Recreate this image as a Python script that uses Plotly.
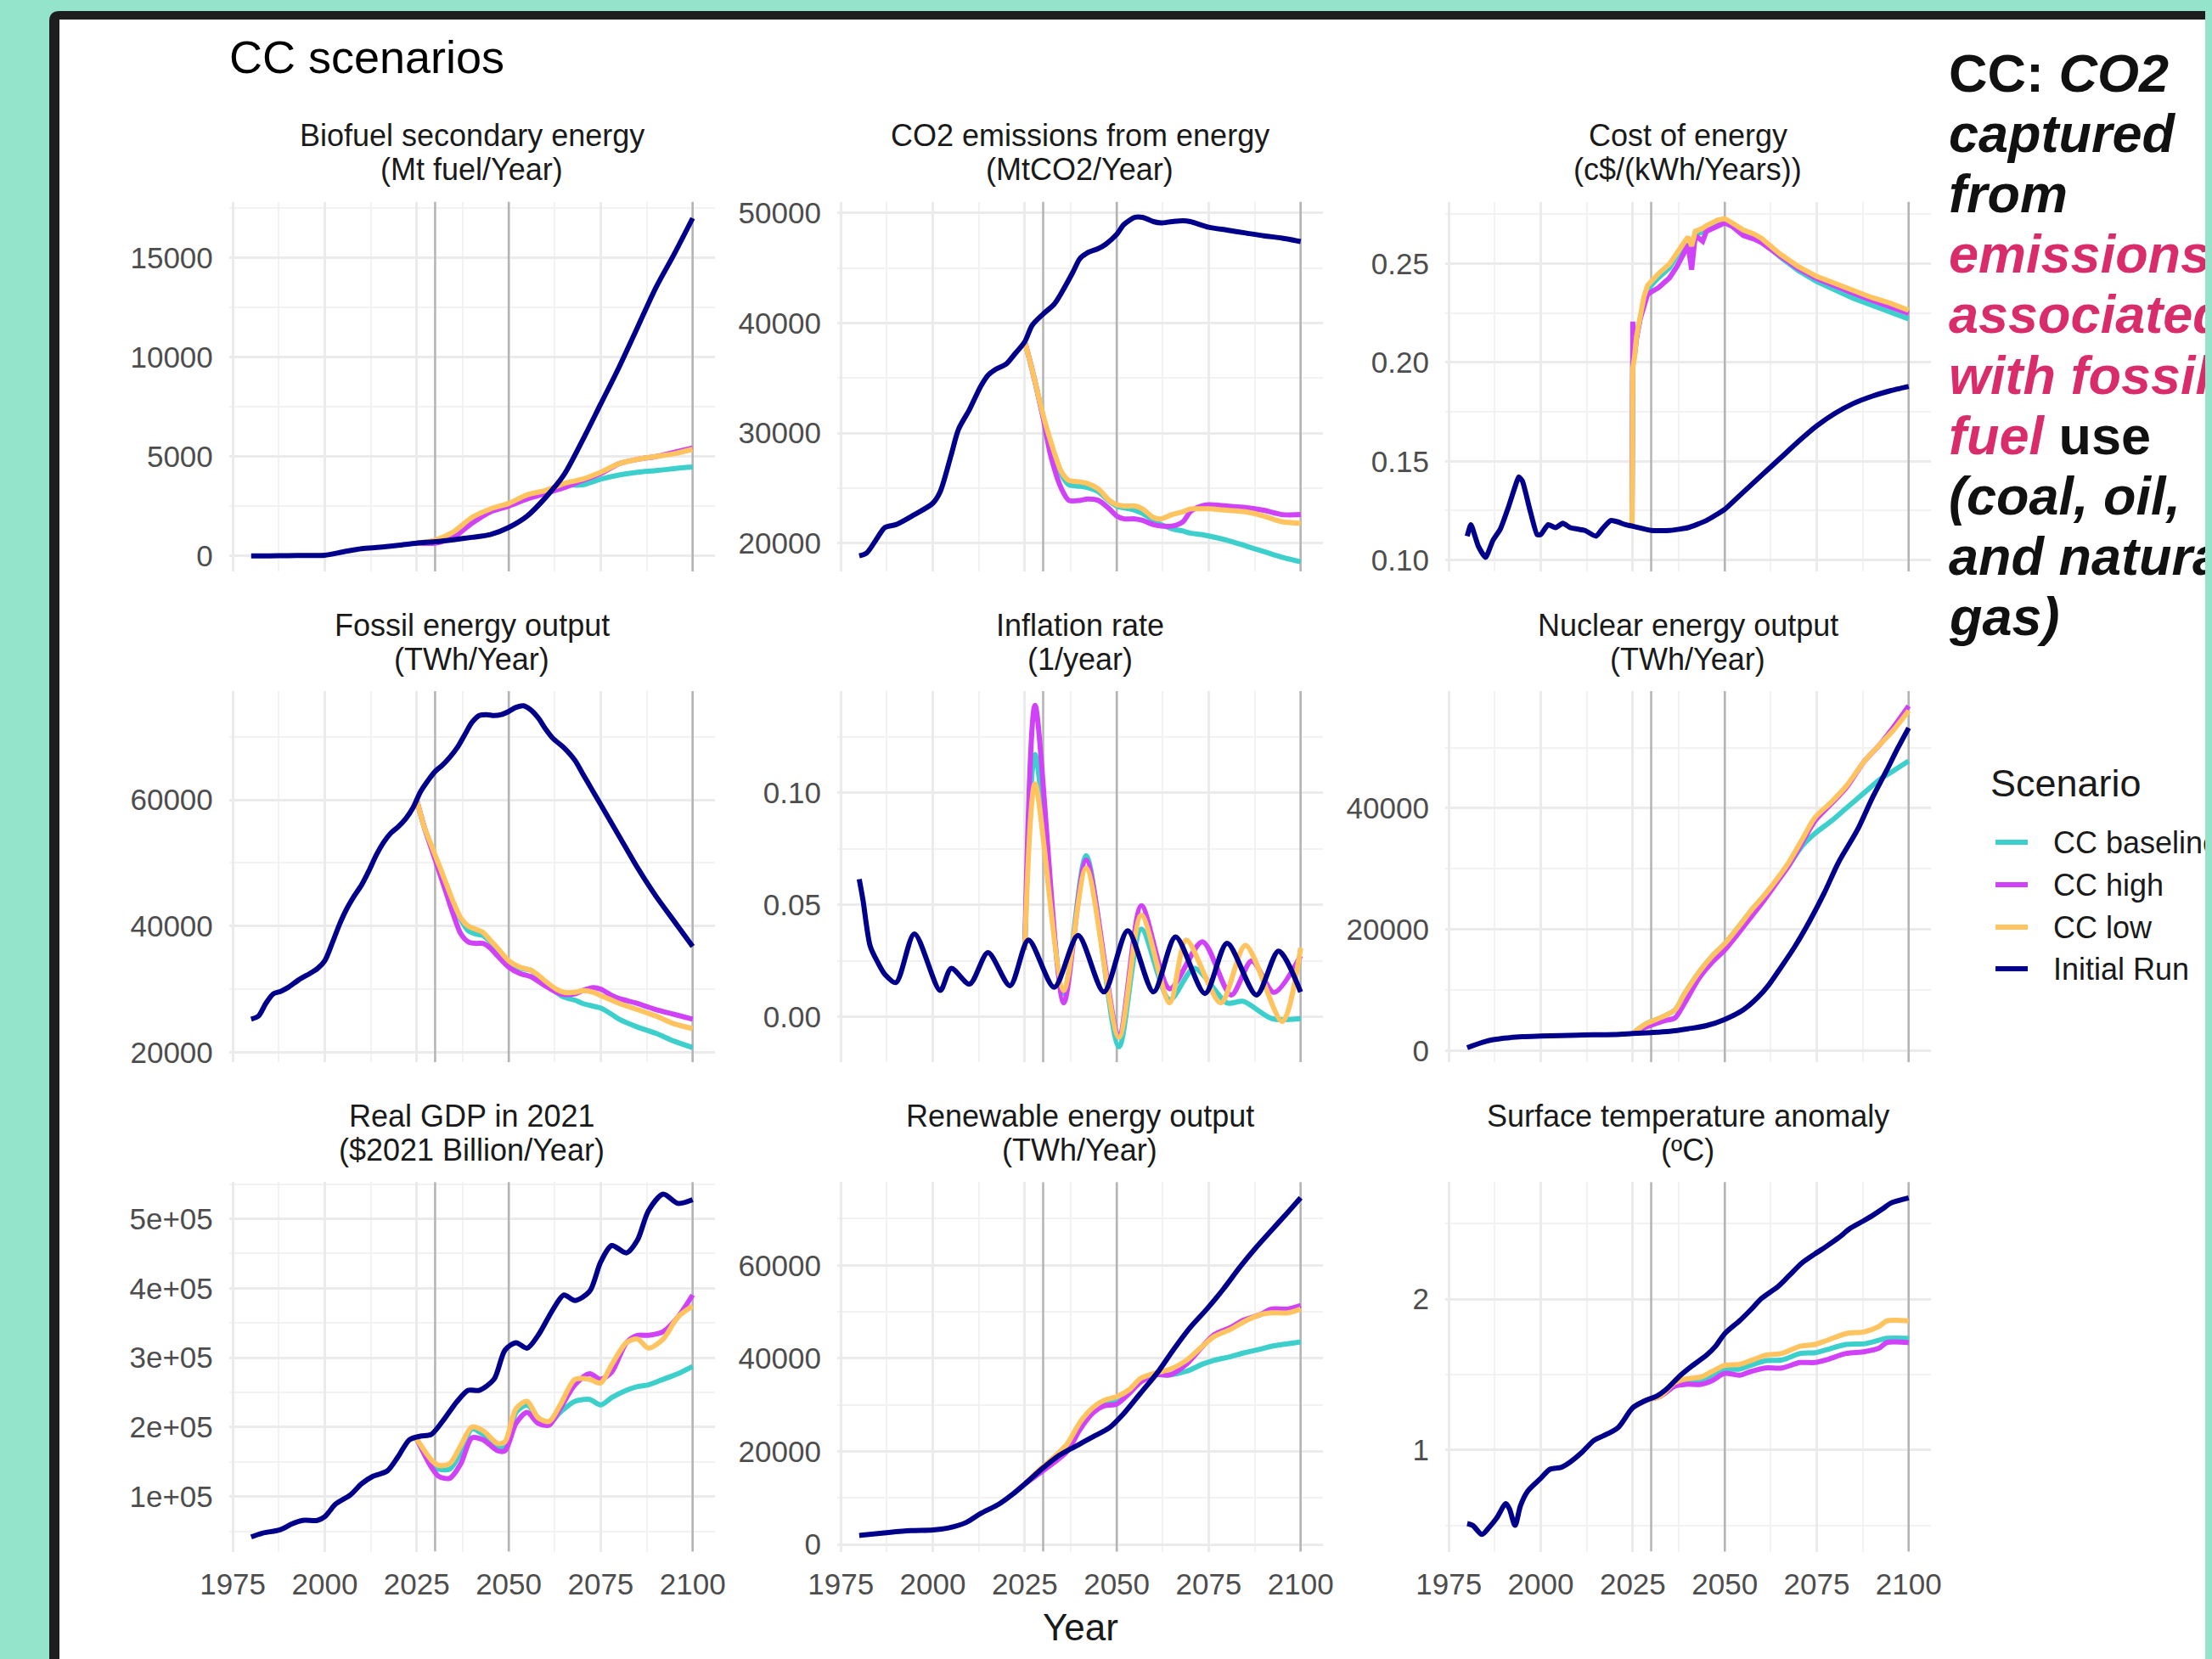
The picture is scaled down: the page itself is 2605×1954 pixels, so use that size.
import plotly.graph_objects as go

# the page body keeps its default 8px margin, so the figure is sized and positioned to fill the
# 2605 x 1954 window starting at (8, 8)
PAGE_W, PAGE_H = 2605, 1954
OFF = 8
W, H = PAGE_W - OFF, PAGE_H - OFF


def fx(xp):
    return (xp - OFF) / W


def fy(yp):
    return 1 - (yp - OFF) / H


# ---------------- data ----------------
SCENARIO_NAMES = ["CC baseline", "CC high", "CC low", "Initial Run"]
SCENARIO_COLORS = ["#3CCFCB", "#D042F8", "#FFC35F", "#00008B"]

X_TICKS = [1975, 2000, 2025, 2050, 2075, 2100]
VLINE_YEARS = [2030, 2050, 2100]

# Biofuel secondary energy
BIO_INIT_YEARS = [1980, 1985, 1990, 1995, 2000, 2005, 2010, 2015, 2020, 2025, 2030, 2035, 2040, 2045,
                  2050, 2055, 2060, 2065, 2070, 2075, 2080, 2085, 2090, 2095, 2100]
BIO_INIT = [0, 0, 10, 20, 30, 200, 360, 430, 530, 640, 710, 810, 930, 1070, 1430, 2000, 2930, 4070,
            5790, 7640, 9500, 11500, 13500, 15200, 17000]
BIO_SCEN_YEARS = [2025, 2030, 2035, 2040, 2045, 2050, 2055, 2060, 2065, 2070, 2075, 2080, 2085, 2090, 2095, 2100]
BIO_BASE = [640, 760, 1150, 1850, 2300, 2600, 3000, 3250, 3550, 3570, 3860, 4070, 4210, 4290, 4390, 4470]
BIO_HIGH = [640, 640, 930, 1640, 2210, 2500, 2860, 3140, 3430, 3790, 4140, 4640, 4860, 5000, 5210, 5430]
BIO_LOW = [640, 790, 1210, 1930, 2360, 2640, 3070, 3290, 3640, 3860, 4210, 4640, 4860, 5000, 5140, 5360]

# CO2 emissions from energy
CO2_INIT_YEARS = [1980, 1982, 1985, 1987, 1990, 1995, 2000, 2002, 2005, 2007, 2010, 2013, 2015, 2017,
                  2020, 2022, 2025, 2027, 2030, 2033, 2035, 2038, 2040, 2042, 2045, 2047, 2050, 2052,
                  2055, 2057, 2060, 2062, 2065, 2068, 2070, 2075, 2080, 2085, 2090, 2095, 2100]
CO2_INIT = [18840, 19100, 20520, 21420, 21680, 22590, 23620, 24660, 28020, 30350, 32160, 34230, 35260,
            35780, 36290, 37070, 38300, 39790, 40820, 41720, 42760, 44570, 45860, 46380, 46770, 47160,
            48060, 48970, 49610, 49610, 49220, 49100, 49220, 49300, 49220, 48710, 48450, 48190, 47930,
            47720, 47410]
CO2_SCEN_YEARS = [2025, 2027, 2030, 2032, 2035, 2037, 2040, 2042, 2045, 2048, 2050, 2052, 2055, 2057,
                  2060, 2062, 2065, 2068, 2070, 2073, 2075, 2080, 2085, 2090, 2095, 2100]
CO2_BASE = [38300, 35780, 31500, 29000, 26200, 25300, 25170, 25050, 24660, 23800, 23370, 23200, 22980,
            22700, 22070, 21700, 21300, 21100, 20910, 20780, 20650, 20260, 19750, 19230, 18710, 18300]
CO2_HIGH = [38300, 35780, 31380, 28020, 24920, 23880, 23880, 24010, 23880, 23110, 22460, 22200, 22200,
            22070, 21680, 21550, 21550, 21940, 22850, 23370, 23490, 23370, 23240, 22980, 22590, 22590]
CO2_LOW = [38300, 35780, 31640, 29310, 26470, 25690, 25560, 25430, 24920, 23880, 23490, 23370, 23370,
           23110, 22330, 22200, 22590, 22850, 23110, 23110, 23110, 22980, 22850, 22460, 21940, 21810]

# Cost of energy
COST_INIT_YEARS = [1980, 1981, 1983, 1985, 1987, 1989, 1991, 1993, 1994, 1995, 1997, 1999, 2000, 2002,
                   2004, 2006, 2008, 2010, 2012, 2015, 2017, 2019, 2021, 2023, 2025, 2030, 2035, 2040,
                   2045, 2050, 2055, 2060, 2065, 2070, 2075, 2080, 2085, 2090, 2095, 2100]
COST_INIT = [0.1121, 0.1179, 0.1071, 0.1014, 0.1100, 0.1157, 0.1257, 0.1371, 0.1421, 0.1400, 0.1257,
             0.1129, 0.1129, 0.1179, 0.1164, 0.1186, 0.1164, 0.1157, 0.1150, 0.1121, 0.1164, 0.1200,
             0.1193, 0.1179, 0.1171, 0.1150, 0.1150, 0.1164, 0.1200, 0.1257, 0.1343, 0.1429, 0.1514,
             0.1600, 0.1679, 0.1743, 0.1793, 0.1829, 0.1857, 0.1879]
COST_SCEN_YEARS = [2024.8, 2025, 2025.5, 2026, 2027, 2028, 2029, 2030, 2032, 2035, 2037, 2039, 2040,
                   2041, 2042, 2044, 2045, 2048, 2050, 2052, 2055, 2058, 2060, 2065, 2070, 2075, 2080,
                   2085, 2090, 2095, 2100]
COST_BASE = [0.1175, 0.199, 0.204, 0.213, 0.222, 0.231, 0.236, 0.239, 0.243, 0.248, 0.254, 0.258, 0.260,
             0.252, 0.265, 0.266, 0.268, 0.271, 0.2725, 0.270, 0.2665, 0.264, 0.2615, 0.2535, 0.2465,
             0.2410, 0.2365, 0.2325, 0.2290, 0.2255, 0.2221]
COST_HIGH = [0.1175, 0.2207, 0.204, 0.212, 0.222, 0.229, 0.2343, 0.2357, 0.2379, 0.2429, 0.2486, 0.2557,
             0.260, 0.247, 0.2643, 0.2614, 0.2664, 0.2690, 0.2707, 0.2690, 0.2643, 0.2625, 0.2607,
             0.2540, 0.2475, 0.2425, 0.2385, 0.2350, 0.2315, 0.2280, 0.2248]
COST_LOW = [0.1175, 0.197, 0.203, 0.213, 0.223, 0.233, 0.239, 0.241, 0.245, 0.250, 0.2557, 0.2614, 0.2636,
            0.2590, 0.2664, 0.2680, 0.2693, 0.2721, 0.2729, 0.2707, 0.2671, 0.2650, 0.2629, 0.2550,
            0.2486, 0.2436, 0.2400, 0.2364, 0.2329, 0.2300, 0.2264]

# Fossil energy output
FOS_INIT_YEARS = [1980, 1982, 1984, 1986, 1988, 1990, 1993, 1996, 1998, 2000, 2002, 2004, 2006, 2008,
                  2010, 2012, 2014, 2016, 2018, 2020, 2022, 2024, 2026, 2028, 2030, 2032, 2034, 2036,
                  2038, 2040, 2042, 2044, 2046, 2048, 2050, 2052, 2054, 2056, 2058, 2060, 2062, 2065,
                  2068, 2070, 2073, 2075, 2080, 2085, 2090, 2095, 2100]
FOS_INIT = [25250, 25750, 27750, 29250, 29650, 30250, 31500, 32500, 33250, 34500, 37250, 40250, 42750,
            44750, 46500, 48750, 51250, 53250, 54750, 55750, 57000, 58750, 61250, 63000, 64500, 65500,
            66750, 68250, 70250, 72250, 73350, 73500, 73350, 73500, 74000, 74650, 74900, 74250, 73000,
            71250, 69750, 68250, 66250, 64250, 61250, 59250, 54250, 49250, 44750, 40750, 36750]
FOS_SCEN_YEARS = [2025, 2027, 2029, 2031, 2033, 2035, 2037, 2039, 2041, 2043, 2045, 2047, 2050, 2053,
                  2056, 2058, 2060, 2063, 2065, 2068, 2070, 2073, 2075, 2078, 2080, 2085, 2090, 2095, 2100]
FOS_BASE = [60000, 55750, 52500, 49500, 46500, 43500, 41000, 39250, 38750, 38500, 37500, 36200, 34250,
            33300, 33000, 32000, 31000, 29500, 28750, 28250, 27750, 27300, 27000, 26000, 25250, 24000,
            23000, 21750, 20750]
FOS_HIGH = [60000, 55750, 52250, 48750, 45250, 41750, 38750, 37500, 37250, 37250, 36500, 35250, 33500,
            32500, 32000, 31250, 30500, 29500, 29150, 29250, 29750, 30250, 30000, 29000, 28500, 27750,
            26750, 26000, 25250]
FOS_LOW = [60000, 55750, 52750, 49750, 46750, 43750, 41250, 40000, 39500, 39000, 37750, 36500, 34500,
           33500, 33000, 32250, 31250, 30000, 29500, 29500, 29750, 29500, 29000, 28250, 27750, 26750,
           25750, 24500, 23750]

# Inflation rate
INF_INIT_YEARS = [1980, 1981, 1983, 1985, 1987, 1990, 1995, 2002, 2005, 2010, 2015, 2021, 2026, 2033,
                  2039.5, 2046.5, 2053, 2060, 2066, 2074, 2080, 2088, 2094, 2100]
INF_INIT = [0.0615, 0.0524, 0.0315, 0.0245, 0.019, 0.0154, 0.0371, 0.0119, 0.0217, 0.0147, 0.0287,
            0.014, 0.0343, 0.0133, 0.0364, 0.0112, 0.0385, 0.0112, 0.0357, 0.0105, 0.0329, 0.0098,
            0.0294, 0.0112]
INF_BASE_YEARS = [2025, 2027.8, 2035.6, 2041.7, 2050.6, 2056.7, 2064.4, 2071.1, 2080, 2084.4, 2092.2, 2100]
INF_BASE = [0.030, 0.117, 0.0105, 0.072, -0.0133, 0.0392, 0.0077, 0.0217, 0.0063, 0.0070, -0.0007, -0.0007]
INF_HIGH_YEARS = [2025, 2027.8, 2035.6, 2041.7, 2050.6, 2056.7, 2064.4, 2073.3, 2081.1, 2086.7, 2092.8, 2100]
INF_HIGH = [0.030, 0.139, 0.0063, 0.070, -0.0077, 0.0497, 0.0126, 0.0336, 0.0098, 0.025, 0.011, 0.0273]
INF_LOW_YEARS = [2025, 2027.8, 2035.6, 2041.7, 2050.6, 2056.7, 2064.4, 2068.9, 2078.3, 2085, 2095, 2100]
INF_LOW = [0.030, 0.104, 0.0119, 0.0664, -0.0091, 0.0455, 0.0063, 0.0343, 0.0063, 0.032, -0.002, 0.0308]

# Nuclear energy output
NUC_INIT_YEARS = [1980, 1985, 1990, 1995, 2000, 2010, 2020, 2025, 2030, 2035, 2040, 2045, 2050, 2055,
                  2059, 2062, 2065, 2069, 2073, 2077, 2081, 2086, 2090, 2094, 2097, 2100]
NUC_INIT = [520, 1560, 2080, 2340, 2440, 2600, 2700, 2860, 3010, 3220, 3640, 4160, 5190, 6750, 8830,
            10910, 13510, 17140, 21300, 25970, 31170, 36360, 41560, 46230, 49870, 53250]
NUC_SCEN_YEARS = [2025, 2028.5, 2033.5, 2036.5, 2039, 2043, 2046.5, 2050, 2053.5, 2057.5, 2060.5, 2064.5,
                  2067.5, 2071, 2074.5, 2079, 2083, 2088, 2092, 2096, 2100]
NUC_BASE = [2860, 4420, 5710, 6750, 9350, 12990, 15580, 17660, 20260, 23380, 25450, 28310, 30650, 33770,
            35840, 37920, 40000, 42600, 44680, 46230, 47790]
NUC_HIGH = [2860, 3900, 4940, 5450, 7790, 11950, 14550, 16620, 19220, 22340, 24680, 28050, 30650, 34290,
            37920, 40780, 43380, 47790, 50390, 53510, 56880]
NUC_LOW = [2860, 4420, 5710, 6750, 9350, 12990, 15580, 17660, 20260, 23380, 25450, 28570, 31170, 34810,
           38440, 41040, 43640, 47790, 50390, 52990, 56100]

# Real GDP
GDP_INIT_YEARS = [1980, 1983, 1988, 1991, 1994, 1998, 2000, 2003, 2007, 2010, 2013, 2017, 2020, 2023,
                  2026, 2029, 2032, 2036, 2039, 2042, 2046, 2049, 2052, 2055, 2058, 2062, 2065, 2068,
                  2072, 2075, 2078, 2082, 2085, 2088, 2092, 2096, 2100]
GDP_INIT = [41950, 47230, 52500, 60420, 65700, 65700, 70980, 89450, 102640, 118470, 129020, 136940,
            158050, 181790, 187070, 189710, 208180, 237200, 253030, 253030, 268870, 311080, 321640,
            313720, 332190, 369130, 390240, 382320, 395510, 437730, 461480, 450920, 469390, 511610,
            535360, 522160, 527440]
GDP_SCEN_YEARS = [2025, 2029, 2031, 2034, 2037, 2040, 2043, 2047, 2049, 2052, 2055, 2058, 2061, 2064,
                  2068, 2072, 2075, 2078, 2082, 2085, 2088, 2092, 2096, 2100]
GDP_BASE = [183000, 147490, 139580, 139580, 163330, 197620, 189710, 171240, 171240, 221370, 231930,
            213460, 205540, 221370, 237200, 239840, 231930, 242480, 253030, 258310, 260950, 268870,
            276780, 287340]
GDP_HIGH = [183000, 142220, 129020, 126380, 147490, 184430, 181790, 165960, 165960, 205540, 221370,
            205540, 202900, 226650, 260950, 276780, 268870, 279420, 321640, 332190, 332190, 337470,
            358580, 390240]
GDP_LOW = [183000, 152770, 144850, 147490, 173880, 200260, 194990, 176520, 179160, 226650, 237200,
           213460, 208180, 231930, 268870, 268870, 263590, 289970, 321640, 326910, 313720, 326910,
           358580, 374410]
GDP_TICKS = [100000, 200000, 300000, 400000, 500000]
GDP_TICK_LABELS = ["1e+05", "2e+05", "3e+05", "4e+05", "5e+05"]

# Renewable energy output
REN_INIT_YEARS = [1980, 1988, 1994, 2000, 2004, 2009, 2013, 2018, 2022, 2025, 2030, 2034.5, 2039, 2043.5,
                  2048, 2052, 2056.5, 2061, 2065.5, 2070, 2074.5, 2079, 2083.5, 2088, 2092, 2096.5, 2100]
REN_INIT = [1960, 2590, 2980, 3140, 3530, 4710, 6670, 8700, 11000, 13000, 16470, 19220, 21180, 23140,
            25100, 28240, 32550, 36860, 41960, 46670, 50590, 54900, 59610, 63920, 67450, 71370, 74510]
REN_SCEN_YEARS = [2025, 2029, 2033, 2036.5, 2040, 2043.5, 2046.5, 2050, 2053.5, 2056.5, 2060.5, 2064.5,
                  2069, 2073.5, 2076.5, 2081, 2084.5, 2089, 2092, 2096.5, 2100]
REN_BASE = [13000, 15690, 18040, 20780, 25490, 28630, 30350, 30980, 32940, 35290, 36470, 36470, 37250,
            38820, 39610, 40390, 41180, 41960, 42590, 43140, 43530]
REN_HIGH = [13000, 15290, 17650, 20000, 24710, 28240, 29800, 30200, 32550, 34900, 36470, 36470, 38820,
            42750, 45100, 46670, 48240, 49410, 50590, 50590, 51370]
REN_LOW = [13000, 16080, 18820, 21570, 26270, 29410, 30980, 31760, 33330, 35690, 36860, 37650, 39610,
           42750, 44710, 46270, 47840, 49410, 49800, 49800, 50590]

# Surface temperature anomaly
TMP_INIT_YEARS = [1980, 1981.5, 1984, 1986, 1988, 1990.5, 1991.5, 1993, 1994.5, 1996.5, 2000, 2002.5,
                  2005.5, 2008, 2011, 2014.5, 2017, 2021, 2025, 2028.5, 2031.5, 2034, 2038, 2041, 2045,
                  2047.5, 2050, 2054, 2057, 2060, 2064.5, 2067.5, 2071, 2074.5, 2077.5, 2081, 2084,
                  2087.5, 2090, 2093, 2095, 2100]
TMP_INIT = [0.513, 0.501, 0.441, 0.489, 0.549, 0.645, 0.609, 0.501, 0.633, 0.729, 0.813, 0.873, 0.885,
            0.921, 0.981, 1.065, 1.094, 1.149, 1.281, 1.329, 1.357, 1.400, 1.496, 1.556, 1.628, 1.688,
            1.772, 1.856, 1.928, 2.005, 2.084, 2.156, 2.240, 2.300, 2.348, 2.408, 2.468, 2.516, 2.552,
            2.600, 2.635, 2.671]
TMP_SCEN_YEARS = [2025, 2028.5, 2032.5, 2036.5, 2039.5, 2043.5, 2046.5, 2050, 2054, 2057, 2061, 2065.5,
                  2070.5, 2074.5, 2077.5, 2083, 2088, 2092, 2094, 2100]
TMP_BASE = [1.281, 1.329, 1.357, 1.436, 1.453, 1.460, 1.496, 1.532, 1.537, 1.561, 1.592, 1.597, 1.640,
            1.645, 1.664, 1.700, 1.705, 1.729, 1.741, 1.741]
TMP_HIGH = [1.281, 1.329, 1.357, 1.424, 1.436, 1.436, 1.460, 1.508, 1.496, 1.520, 1.544, 1.544, 1.580,
            1.580, 1.597, 1.640, 1.652, 1.676, 1.712, 1.712]
TMP_LOW = [1.281, 1.329, 1.357, 1.448, 1.472, 1.484, 1.520, 1.561, 1.568, 1.592, 1.628, 1.640, 1.688,
           1.700, 1.724, 1.772, 1.784, 1.820, 1.856, 1.856]

PANEL_TITLES = ["Biofuel secondary energy", "CO2 emissions from energy", "Cost of energy",
                "Fossil energy output", "Inflation rate", "Nuclear energy output",
                "Real GDP in 2021", "Renewable energy output", "Surface temperature anomaly"]
PANEL_UNITS = ["(Mt fuel/Year)", "(MtCO2/Year)", "(c$/(kWh/Years))", "(TWh/Year)", "(1/year)",
               "(TWh/Year)", "($2021 Billion/Year)", "(TWh/Year)", "(ºC)"]

# ---------------- styling / layout ----------------
MINT = "#94E3CB"
FRAME = "#1E1E1E"
GRID = "#EBEBEB"
GRID_MINOR = "#F2F2F2"
VLINE = "#B4B4B4"
TICK_COLOR = "#4D4D4D"
TEXT = "#1A1A1A"
PINK = "#D92D6B"
FONT = "Liberation Sans, Arial, sans-serif"
LW = 6

# plot-area positions in page pixels
COL_PX = [(269.8, 841.7), (985.9, 1557.7), (1701.9, 2273.8)]
ROW_PX = [(237.6, 672.9), (814.1, 1251.0), (1392.3, 1827.5)]
X_RANGE = [1974, 2106]

panels = [
    dict(series=[(BIO_SCEN_YEARS, BIO_BASE), (BIO_SCEN_YEARS, BIO_HIGH), (BIO_SCEN_YEARS, BIO_LOW),
                 (BIO_INIT_YEARS, BIO_INIT)],
         yrange=[-780, 17830], dtick=5000, minor=2500, fmt="d"),
    dict(series=[(CO2_SCEN_YEARS, CO2_BASE), (CO2_SCEN_YEARS, CO2_HIGH), (CO2_SCEN_YEARS, CO2_LOW),
                 (CO2_INIT_YEARS, CO2_INIT)],
         yrange=[17436, 51026], dtick=10000, minor=5000, fmt="d"),
    dict(series=[(COST_SCEN_YEARS, COST_BASE), (COST_SCEN_YEARS, COST_HIGH), (COST_SCEN_YEARS, COST_LOW),
                 (COST_INIT_YEARS, COST_INIT)],
         yrange=[0.0943, 0.2814], dtick=0.05, minor=0.025, fmt=".2f", linear_scen=True),
    dict(series=[(FOS_SCEN_YEARS, FOS_BASE), (FOS_SCEN_YEARS, FOS_HIGH), (FOS_SCEN_YEARS, FOS_LOW),
                 (FOS_INIT_YEARS, FOS_INIT)],
         yrange=[18436, 77207], dtick=20000, minor=10000, fmt="d"),
    dict(series=[(INF_BASE_YEARS, INF_BASE), (INF_HIGH_YEARS, INF_HIGH), (INF_LOW_YEARS, INF_LOW),
                 (INF_INIT_YEARS, INF_INIT)],
         yrange=[-0.0201, 0.1453], dtick=0.05, minor=0.025, fmt=".2f"),
    dict(series=[(NUC_SCEN_YEARS, NUC_BASE), (NUC_SCEN_YEARS, NUC_HIGH), (NUC_SCEN_YEARS, NUC_LOW),
                 (NUC_INIT_YEARS, NUC_INIT)],
         yrange=[-1860, 59300], dtick=20000, minor=10000, fmt="d"),
    dict(series=[(GDP_SCEN_YEARS, GDP_BASE), (GDP_SCEN_YEARS, GDP_HIGH), (GDP_SCEN_YEARS, GDP_LOW),
                 (GDP_INIT_YEARS, GDP_INIT)],
         yrange=[20800, 552800], dtick=100000, minor=50000, fmt="d",
         tickvals=GDP_TICKS, ticktext=GDP_TICK_LABELS),
    dict(series=[(REN_SCEN_YEARS, REN_BASE), (REN_SCEN_YEARS, REN_HIGH), (REN_SCEN_YEARS, REN_LOW),
                 (REN_INIT_YEARS, REN_INIT)],
         yrange=[-1515, 77880], dtick=20000, minor=10000, fmt="d"),
    dict(series=[(TMP_SCEN_YEARS, TMP_BASE), (TMP_SCEN_YEARS, TMP_HIGH), (TMP_SCEN_YEARS, TMP_LOW),
                 (TMP_INIT_YEARS, TMP_INIT)],
         yrange=[0.327, 2.776], dtick=1, minor=0.5, fmt="d"),
]

fig = go.Figure()
layout = dict(
    width=W, height=H,
    margin=dict(l=0, r=0, t=0, b=0),
    paper_bgcolor=MINT,
    plot_bgcolor="rgba(0,0,0,0)",
    showlegend=False,
    hovermode=False,
    font=dict(family=FONT, color=TEXT),
)

annotations = []
shapes = []

# page frame: black rounded border + white card
rx, ry = 12 / W, 12 / H
x0f, ytf = fx(58), fy(13)
shapes.append(dict(
    type="path", xref="paper", yref="paper", layer="below",
    path=(f"M {x0f},-0.02 L {x0f},{ytf - ry} Q {x0f},{ytf} {x0f + rx},{ytf} "
          f"L 1.02,{ytf} L 1.02,-0.02 Z"),
    fillcolor=FRAME, line=dict(width=0)))
shapes.append(dict(type="rect", xref="paper", yref="paper", layer="below",
                   x0=fx(70), x1=1.02, y0=-0.02, y1=fy(23),
                   fillcolor="white", line=dict(width=0)))

for k, p in enumerate(panels):
    r, c = divmod(k, 3)
    n = k + 1
    xs = "" if n == 1 else str(n)
    xd = [fx(COL_PX[c][0]), fx(COL_PX[c][1])]
    yd = [fy(ROW_PX[r][1]), fy(ROW_PX[r][0])]

    # reference year lines (drawn as traces so they sit above the grid, below the data)
    for yr in VLINE_YEARS:
        fig.add_trace(go.Scatter(
            x=[yr, yr], y=p["yrange"], mode="lines", line=dict(color=VLINE, width=2.5),
            xaxis="x" + xs, yaxis="y" + xs, showlegend=False, hoverinfo="skip"))

    for s, (xv, yv) in enumerate(p["series"]):
        is_init = s == 3
        if p.get("linear_scen") and not is_init:
            line = dict(color=SCENARIO_COLORS[s], width=LW, shape="linear")
        elif p.get("linear_scen"):
            line = dict(color=SCENARIO_COLORS[s], width=LW, shape="spline", smoothing=0.5)
        else:
            line = dict(color=SCENARIO_COLORS[s], width=LW, shape="spline", smoothing=0.8)
        fig.add_trace(go.Scatter(
            x=xv, y=yv, mode="lines", name=SCENARIO_NAMES[s], line=line,
            xaxis="x" + xs, yaxis="y" + xs, showlegend=False))

    layout["xaxis" + xs] = dict(
        domain=xd, anchor="y" + xs, range=X_RANGE, tick0=1975, dtick=25,
        showgrid=True, gridcolor=GRID, gridwidth=3, zeroline=False, showline=False,
        ticks="", showticklabels=(r == 2), ticklabelstandoff=14, automargin=False,
        tickfont=dict(size=35, color=TICK_COLOR, family=FONT),
        minor=dict(tick0=1975, dtick=12.5, showgrid=True, gridcolor=GRID_MINOR, gridwidth=1.6),
        fixedrange=True)
    yax = dict(
        domain=yd, anchor="x" + xs, range=p["yrange"],
        showgrid=True, gridcolor=GRID, gridwidth=3, zeroline=False, showline=False,
        ticks="", ticklabelstandoff=18, tickformat=p["fmt"], automargin=False,
        tickfont=dict(size=35, color=TICK_COLOR, family=FONT),
        minor=dict(tick0=0, dtick=p["minor"], showgrid=True, gridcolor=GRID_MINOR, gridwidth=1.6),
        fixedrange=True)
    if "tickvals" in p:
        yax.update(tickmode="array", tickvals=p["tickvals"], ticktext=p["ticktext"])
    else:
        yax.update(tick0=0, dtick=p["dtick"])
    layout["yaxis" + xs] = yax

    cx = fx((COL_PX[c][0] + COL_PX[c][1]) / 2)
    top = ROW_PX[r][0]
    annotations.append(dict(text=PANEL_TITLES[k], x=cx, y=fy(top - 78), xref="paper", yref="paper",
                            xanchor="center", yanchor="middle", showarrow=False,
                            font=dict(size=36, color=TEXT, family=FONT)))
    annotations.append(dict(text=PANEL_UNITS[k], x=cx, y=fy(top - 38), xref="paper", yref="paper",
                            xanchor="center", yanchor="middle", showarrow=False,
                            font=dict(size=36, color=TEXT, family=FONT)))

# main title and x-axis title
annotations.append(dict(text="CC scenarios", x=fx(268), y=fy(67), xref="paper", yref="paper",
                        xanchor="left", yanchor="middle", showarrow=False,
                        font=dict(size=54, color="#000000", family=FONT)))
annotations.append(dict(text="Year", x=fx(1272), y=fy(1916), xref="paper", yref="paper",
                        xanchor="center", yanchor="middle", showarrow=False,
                        font=dict(size=44, color=TEXT, family=FONT)))

# side note
NOTE_LINES = [
    "<b>CC: </b><b><i>CO2</i></b>",
    "<b><i>captured</i></b>",
    "<b><i>from</i></b>",
    f"<span style='color:{PINK}'><b><i>emissions</i></b></span>",
    f"<span style='color:{PINK}'><b><i>associated</i></b></span>",
    f"<span style='color:{PINK}'><b><i>with fossil</i></b></span>",
    f"<span style='color:{PINK}'><b><i>fuel</i></b></span><b> use</b>",
    "<b><i>(coal, oil,</i></b>",
    "<b><i>and natural</i></b>",
    "<b><i>gas)</i></b>",
]
for i, t in enumerate(NOTE_LINES):
    annotations.append(dict(text=t, x=fx(2293), y=fy(86 + i * 71.1), xref="paper", yref="paper",
                            xanchor="left", yanchor="middle", showarrow=False, align="left",
                            font=dict(size=63, color="#111111", family=FONT)))

# legend (drawn by hand to match the reference spacing)
annotations.append(dict(text="Scenario", x=fx(2342), y=fy(922), xref="paper", yref="paper",
                        xanchor="left", yanchor="middle", showarrow=False,
                        font=dict(size=45, color=TEXT, family=FONT)))
LEG_Y = [992, 1042, 1092, 1141]
for i, name in enumerate(SCENARIO_NAMES):
    yy = fy(LEG_Y[i])
    shapes.append(dict(type="line", xref="paper", yref="paper", x0=fx(2350), x1=fx(2388),
                       y0=yy, y1=yy, line=dict(color=SCENARIO_COLORS[i], width=LW)))
    annotations.append(dict(text=name, x=fx(2416), y=yy, xref="paper", yref="paper",
                            xanchor="left", yanchor="middle", showarrow=False,
                            font=dict(size=36, color=TEXT, family=FONT)))

layout["annotations"] = annotations
layout["shapes"] = shapes

fig.update_layout(**layout)
fig.write_html(
    "out.html",
    config={"displayModeBar": False, "responsive": False},
    post_script=f"document.body.style.backgroundColor='{MINT}';",
)
